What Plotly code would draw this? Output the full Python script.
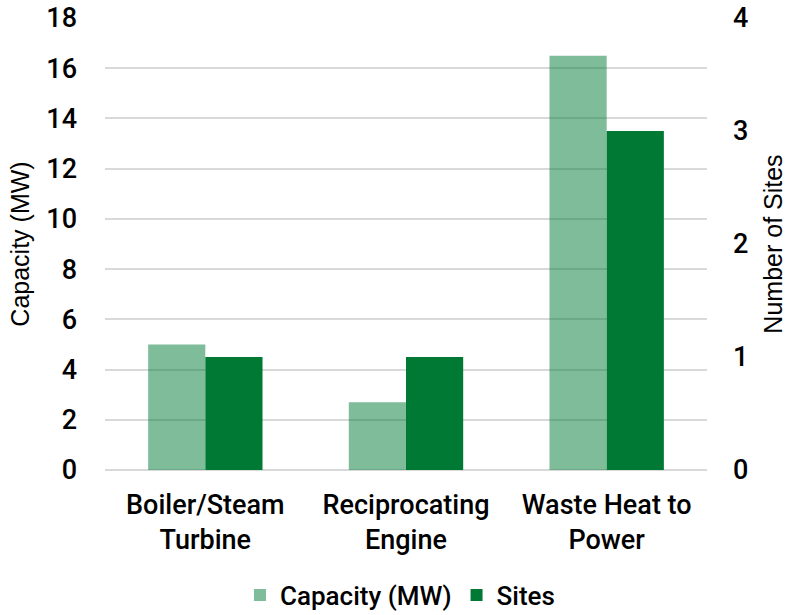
import plotly.graph_objects as go

categories = ["Boiler/Steam<br>Turbine", "Reciprocating<br>Engine", "Waste Heat to<br>Power"]
capacity_mw = [5.0, 2.7, 16.5]
sites = [1, 1, 3]
left_ticks = [0, 2, 4, 6, 8, 10, 12, 14, 16, 18]
right_ticks = [0, 1, 2, 3, 4]

LABEL_FONT = dict(family="Roboto", weight=500, color="black")
TITLE_FONT = dict(family="Liberation Sans", size=25, color="black")

fig = go.Figure()
fig.add_trace(go.Bar(
    x=categories, y=capacity_mw, name="Capacity (MW)",
    marker=dict(color="rgba(0,121,52,0.5)", line=dict(width=0)),
    offsetgroup="cap", yaxis="y",
))
fig.add_trace(go.Bar(
    x=categories, y=sites, name="Sites",
    marker=dict(color="#007934", line=dict(width=0)),
    offsetgroup="sites", yaxis="y2",
))

fig.update_layout(
    width=788, height=615,
    margin=dict(l=105, r=81, t=18, b=145, autoexpand=False),
    paper_bgcolor="white", plot_bgcolor="white",
    font=dict(**LABEL_FONT, size=25),
    barmode="group", bargap=0.43, bargroupgap=0,
    showlegend=True,
    legend=dict(orientation="h", x=0.49, xanchor="center", y=-0.277, yanchor="middle",
                font=dict(**LABEL_FONT, size=26), itemsizing="constant",
                traceorder="normal", itemwidth=30),
    xaxis=dict(showgrid=False, showline=False, ticks="", automargin=False,
               tickfont=dict(**LABEL_FONT, size=27), ticklabelstandoff=16),
    yaxis=dict(range=[0, 18], tickvals=left_ticks, showgrid=True, gridcolor="#d9d9d9",
               gridwidth=2, zeroline=True, zerolinecolor="#d9d9d9", zerolinewidth=2,
               showline=False, ticks="", ticklabelstandoff=27, automargin=False,
               tickfont=dict(**LABEL_FONT, size=27),
               title=dict(text="Capacity (MW)", standoff=9, font=TITLE_FONT)),
    yaxis2=dict(range=[0, 4], tickvals=right_ticks, overlaying="y", side="right",
                showgrid=False, zeroline=False, showline=False, ticks="",
                ticklabelstandoff=25, automargin=False,
                tickfont=dict(**LABEL_FONT, size=27),
                title=dict(text="Number of Sites", standoff=17, font=TITLE_FONT)),
)

fig.write_html("out.html")
